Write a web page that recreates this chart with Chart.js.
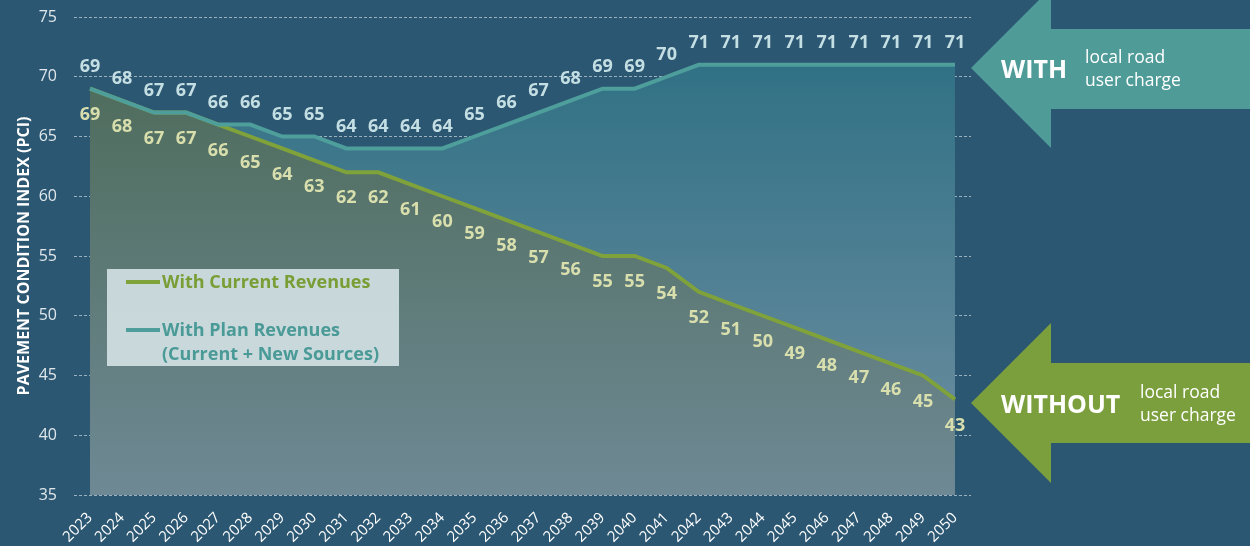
<!DOCTYPE html>
<html>
<head>
<meta charset="utf-8">
<script src="https://cdn.jsdelivr.net/npm/chart.js@4"></script>
<style>
body{margin:0;background:#2c5772;font-family:"Open Sans",sans-serif;}
#wrap{position:relative;width:1250px;height:546px;overflow:hidden;}
#canvas{position:absolute;left:0;top:0;}
.legend{position:absolute;left:107px;top:269px;width:292px;height:97px;background:rgba(218,230,233,0.86);}
.legend .item{position:absolute;left:19px;font-weight:bold;font-size:18px;line-height:24px;white-space:nowrap;}
.legend .swatch{display:inline-block;width:34px;height:4px;vertical-align:middle;margin-right:2px;position:relative;top:-1px;}
.arrow{position:absolute;left:971px;width:279px;height:160px;}
.arrow .txt{position:absolute;color:#fff;white-space:nowrap;}
.arrow .big{font-weight:bold;font-size:25px;}
.arrow .small{font-size:17.5px;line-height:23px;}
</style>
</head>
<body>
<div id="wrap">
<canvas id="canvas" width="1250" height="546"></canvas>
<div class="legend">
  <div class="item" style="top:0px;color:#7a9e36"><span class="swatch" style="background:#7fa23a"></span>With Current Revenues</div>
  <div class="item" style="top:48px;color:#4a9a98"><span class="swatch" style="background:#4e9e9c"></span>With Plan Revenues</div>
  <div class="item" style="top:72px;left:55px;color:#4a9a98">(Current + New Sources)</div>
</div>
<div class="arrow" style="top:-12px">
  <svg width="279" height="160" style="position:absolute;left:0;top:0"><polygon points="0,80 80,0 80,41 279,41 279,121 80,121 80,160" fill="#4e9b98"/></svg>
  <div class="txt big" style="left:30px;top:63px">WITH</div>
  <div class="txt small" style="left:114px;top:57px">local road<br>user charge</div>
</div>
<div class="arrow" style="top:323px">
  <svg width="279" height="160" style="position:absolute;left:0;top:0"><polygon points="0,80 80,0 80,40 279,40 279,120 80,120 80,160" fill="#7c9f3e"/></svg>
  <div class="txt big" style="left:30px;top:63px">WITHOUT</div>
  <div class="txt small" style="left:169px;top:57px">local road<br>user charge</div>
</div>
</div>
<script>
var years = [2023,2024,2025,2026,2027,2028,2029,2030,2031,2032,2033,2034,2035,2036,2037,2038,2039,2040,2041,2042,2043,2044,2045,2046,2047,2048,2049,2050]
var planRevenues = [69,68,67,67,66,66,65,65,64,64,64,64,65,66,67,68,69,69,70,71,71,71,71,71,71,71,71,71]
var currentRevenues = [69,68,67,67,66,65,64,63,62,62,61,60,59,58,57,56,55,55,54,52,51,50,49,48,47,46,45,43]

var canvas = document.getElementById("canvas")

function gradient(chart, top, bottom){
    var area = chart.chartArea
    if(!area){
        return top
    }
    var g = chart.ctx.createLinearGradient(0, area.top, 0, area.bottom)
    g.addColorStop(0, top)
    g.addColorStop(1, bottom)
    return g
}

// valeurs au-dessus / en-dessous des points
var valueLabels = {
    id: "valueLabels",
    afterDraw: function(chart){
        var ctx = chart.ctx
        ctx.save()
        ctx.font = "bold 18px 'Open Sans'"
        ctx.textAlign = "center"
        ctx.textBaseline = "middle"
        chart.data.datasets.forEach(function(ds, i){
            var meta = chart.getDatasetMeta(i)
            meta.data.forEach(function(pt, j){
                ctx.fillStyle = ds.labelColor
                ctx.fillText(ds.data[j], pt.x, pt.y + ds.labelOffset)
            })
        })
        ctx.restore()
    }
}

var chart = new Chart(canvas, {
    type: "line",
    data: {
        labels: years,
        datasets: [{
            label: "With Plan Revenues (Current + New Sources)",
            data: planRevenues,
            borderColor: "#4e9e9c",
            borderWidth: 4,
            pointRadius: 0,
            fill: 1,
            backgroundColor: function(c){ return gradient(c.chart, "rgb(42,110,130)", "rgb(112,143,162)") },
            labelColor: "#c4dfe4",
            labelOffset: -22,
            order: 0
        }, {
            label: "With Current Revenues",
            data: currentRevenues,
            borderColor: "#7fa23a",
            borderWidth: 4,
            pointRadius: 0,
            fill: "start",
            backgroundColor: function(c){ return gradient(c.chart, "rgb(74,104,84)", "rgb(110,137,148)") },
            labelColor: "#d8dfad",
            labelOffset: 26,
            order: 1
        }]
    },
    options: {
        responsive: false,
        animation: false,
        layout: {
            padding: {top: 17, right: 279, left: 0, bottom: 0}
        },
        plugins: {
            legend: {display: false},
            tooltip: {enabled: false},
            filler: {drawTime: "beforeDatasetsDraw"}
        },
        scales: {
            x: {
                offset: true,
                grid: {display: false},
                border: {display: false},
                ticks: {
                    color: "#ffffff",
                    font: {family: "'Open Sans'", size: 15},
                    minRotation: 45,
                    maxRotation: 45,
                    autoSkip: false,
                    padding: 6
                },
                afterFit: function(scale){ scale.height = 51 }
            },
            y: {
                min: 35,
                max: 75,
                z: 1,
                ticks: {
                    stepSize: 5,
                    color: "#dfe7ec",
                    font: {family: "'Open Sans'", size: 16},
                    padding: 17
                },
                grid: {
                    color: "rgba(230,238,242,0.6)",
                    drawTicks: false,
                    lineWidth: 1
                },
                border: {display: false, dash: [3, 2]},
                title: {
                    display: true,
                    text: "PAVEMENT CONDITION INDEX (PCI)",
                    color: "#ffffff",
                    font: {family: "'Open Sans'", size: 16, weight: "bold"},
                    padding: {top: 15, bottom: 0}
                },
                afterFit: function(scale){
                    scale.width = 74
                    scale.paddingTop = 0
                    scale.paddingBottom = 0
                }
            }
        }
    },
    plugins: [valueLabels]
})
</script>
</body>
</html>
